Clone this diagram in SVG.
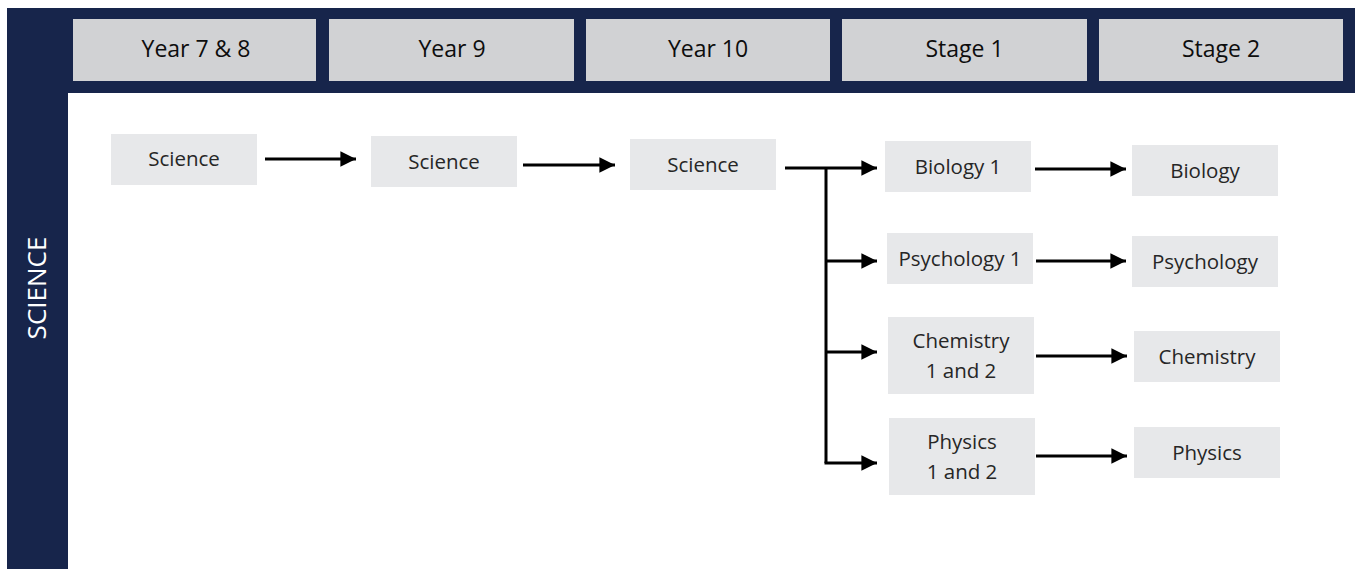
<svg xmlns="http://www.w3.org/2000/svg" width="1359" height="569" viewBox="0 0 1359 569">
  <defs>
    <style>
      .band { fill: #17254b; }
      .head { fill: #d1d2d4; }
      .head-text { font-family: "Open Sans", "Noto Sans", sans-serif; font-size: 23px; fill: #0d0d0d; text-anchor: middle; }
      .box { fill: #e7e8ea; }
      .label { font-family: "Open Sans", "Noto Sans", sans-serif; font-size: 20.5px; fill: #262626; text-anchor: middle; }
      .side { font-family: "Open Sans", "Noto Sans", sans-serif; font-size: 26px; fill: #ffffff; text-anchor: middle; }
      .wire { fill: none; stroke: #000000; stroke-width: 3; }
    </style>
    <marker id="arrowhead" viewBox="0 0 10 10" refX="10" refY="5" markerWidth="5.5" markerHeight="5.2" markerUnits="strokeWidth" orient="auto">
      <path d="M0,0 L10,5 L0,10 Z" fill="#000000"/>
    </marker>
  </defs>

  <rect width="1359" height="569" fill="#ffffff"/>

  <!-- frame: top header band and left column -->
  <g id="frame">
    <rect class="band" x="7" y="8" width="1348" height="85"/>
    <rect class="band" x="7" y="8" width="61" height="561"/>
    <text class="side" transform="translate(46,288) rotate(-90)">SCIENCE</text>
  </g>

  <!-- column headers -->
  <g id="hdr-y78">
    <rect class="head" x="73" y="19" width="243" height="62"/>
    <text class="head-text" x="196" y="57">Year 7 &amp; 8</text>
  </g>
  <g id="hdr-y9">
    <rect class="head" x="329" y="19" width="245" height="62"/>
    <text class="head-text" x="452" y="57">Year 9</text>
  </g>
  <g id="hdr-y10">
    <rect class="head" x="586" y="19" width="244" height="62"/>
    <text class="head-text" x="708" y="57">Year 10</text>
  </g>
  <g id="hdr-s1">
    <rect class="head" x="842" y="19" width="245" height="62"/>
    <text class="head-text" x="964.5" y="57">Stage 1</text>
  </g>
  <g id="hdr-s2">
    <rect class="head" x="1099" y="19" width="244" height="62"/>
    <text class="head-text" x="1221" y="57">Stage 2</text>
  </g>

  <!-- course nodes -->
  <g id="sci-78">
    <rect class="box" x="111" y="134" width="146" height="51"/>
    <text class="label" x="184" y="166">Science</text>
  </g>
  <g id="sci-9">
    <rect class="box" x="371" y="136" width="146" height="51"/>
    <text class="label" x="444" y="169">Science</text>
  </g>
  <g id="sci-10">
    <rect class="box" x="630" y="139" width="146" height="51"/>
    <text class="label" x="703" y="172">Science</text>
  </g>
  <g id="bio-1">
    <rect class="box" x="885" y="141" width="146" height="51"/>
    <text class="label" x="958" y="174">Biology 1</text>
  </g>
  <g id="psy-1">
    <rect class="box" x="887" y="233" width="146" height="51"/>
    <text class="label" x="960" y="266">Psychology 1</text>
  </g>
  <g id="chem-1">
    <rect class="box" x="888" y="317" width="146" height="77"/>
    <text class="label" x="961" y="348">Chemistry</text>
    <text class="label" x="961" y="378">1 and 2</text>
  </g>
  <g id="phys-1">
    <rect class="box" x="889" y="418" width="146" height="77"/>
    <text class="label" x="962" y="449">Physics</text>
    <text class="label" x="962" y="479">1 and 2</text>
  </g>
  <g id="bio-2">
    <rect class="box" x="1132" y="145" width="146" height="51"/>
    <text class="label" x="1205" y="178">Biology</text>
  </g>
  <g id="psy-2">
    <rect class="box" x="1132" y="236" width="146" height="51"/>
    <text class="label" x="1205" y="269">Psychology</text>
  </g>
  <g id="chem-2">
    <rect class="box" x="1134" y="331" width="146" height="51"/>
    <text class="label" x="1207" y="364">Chemistry</text>
  </g>
  <g id="phys-2">
    <rect class="box" x="1134" y="427" width="146" height="51"/>
    <text class="label" x="1207" y="460">Physics</text>
  </g>

  <!-- connectors -->
  <g id="connectors">
    <line class="wire" x1="265" y1="159" x2="356" y2="159" marker-end="url(#arrowhead)"/>
    <line class="wire" x1="523" y1="165" x2="615" y2="165" marker-end="url(#arrowhead)"/>
    <path class="wire" d="M785,168 H877" marker-end="url(#arrowhead)"/>
    <path class="wire" d="M826,168 V463"/>
    <path class="wire" d="M826,261 H877" marker-end="url(#arrowhead)"/>
    <path class="wire" d="M826,352 H877" marker-end="url(#arrowhead)"/>
    <path class="wire" d="M824.5,463 H877" marker-end="url(#arrowhead)"/>
    <line class="wire" x1="1035" y1="169" x2="1126" y2="169" marker-end="url(#arrowhead)"/>
    <line class="wire" x1="1036" y1="261" x2="1126" y2="261" marker-end="url(#arrowhead)"/>
    <line class="wire" x1="1036" y1="356" x2="1127" y2="356" marker-end="url(#arrowhead)"/>
    <line class="wire" x1="1036" y1="456" x2="1127" y2="456" marker-end="url(#arrowhead)"/>
  </g>
</svg>
